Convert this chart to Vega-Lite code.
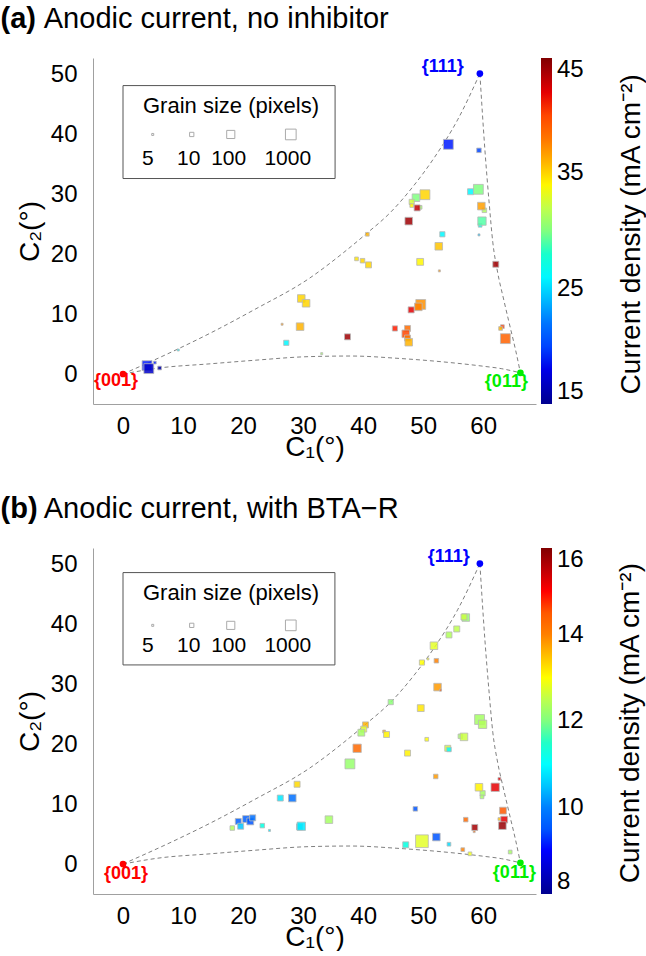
{
  "$schema": "https://vega.github.io/schema/vega-lite/v6.json",
  "padding": {"top": 5, "left": 0, "right": 0, "bottom": 0},
  "autosize": {"type": "pad"},
  "background": "white",
  "config": {
    "font": "Liberation Sans",
    "view": {"stroke": null},
    "axis": {
      "grid": false,
      "domainColor": "#a0a0a0",
      "ticks": false,
      "labelFont": "Liberation Sans",
      "labelFontSize": 24,
      "labelColor": "black",
      "labelFlush": false,
      "labelOverlap": false,
      "titleFont": "Liberation Sans",
      "titleFontSize": 28,
      "titleFontWeight": "normal",
      "titleColor": "black"
    },
    "axisX": {"labelPadding": 10, "titlePadding": -5},
    "axisY": {"labelPadding": 16, "titlePadding": 6},
    "legend": {"labelFont": "Liberation Sans", "labelColor": "black"}
  },
  "datasets": {
    "one": [{}],
    "curves": [
      {"seg": "L", "c1": 0, "c2": 0},
      {"seg": "L", "c1": 6, "c2": 1.0},
      {"seg": "L", "c1": 14.5, "c2": 1.7},
      {"seg": "L", "c1": 22, "c2": 2.3},
      {"seg": "L", "c1": 31, "c2": 2.9},
      {"seg": "L", "c1": 38, "c2": 3.0},
      {"seg": "L", "c1": 46, "c2": 2.6},
      {"seg": "L", "c1": 54.6, "c2": 1.9},
      {"seg": "L", "c1": 60, "c2": 1.3},
      {"seg": "L", "c1": 63, "c2": 0.9},
      {"seg": "L", "c1": 66.2, "c2": 0.2},
      {"seg": "U", "c1": 0, "c2": 0},
      {"seg": "U", "c1": 9.2, "c2": 4.2},
      {"seg": "U", "c1": 14.5, "c2": 6.8},
      {"seg": "U", "c1": 22, "c2": 10.8},
      {"seg": "U", "c1": 31.1, "c2": 16.0},
      {"seg": "U", "c1": 36.8, "c2": 20.3},
      {"seg": "U", "c1": 40.3, "c2": 23.2},
      {"seg": "U", "c1": 44.6, "c2": 27.0},
      {"seg": "U", "c1": 48.5, "c2": 31.5},
      {"seg": "U", "c1": 51.8, "c2": 36.0},
      {"seg": "U", "c1": 55.8, "c2": 42.5},
      {"seg": "U", "c1": 59.45, "c2": 50.1},
      {"seg": "R", "c1": 59.45, "c2": 50.1},
      {"seg": "R", "c1": 60.3, "c2": 37.2},
      {"seg": "R", "c1": 61.0, "c2": 28.5},
      {"seg": "R", "c1": 61.6, "c2": 22.0},
      {"seg": "R", "c1": 62.4, "c2": 17.0},
      {"seg": "R", "c1": 63.4, "c2": 12.5},
      {"seg": "R", "c1": 64.5, "c2": 7.8},
      {"seg": "R", "c1": 65.4, "c2": 4.0},
      {"seg": "R", "c1": 66.2, "c2": 0.2}
    ],
    "a": [
      {"c1": 54.2, "c2": 38.3, "j": 19, "g": 445},
      {"c1": 59.3, "c2": 37.3, "j": 20, "g": 11},
      {"c1": 57.9, "c2": 30.4, "j": 26, "g": 23},
      {"c1": 59.2, "c2": 30.8, "j": 30, "g": 445},
      {"c1": 60.2, "c2": 27.3, "j": 31.5, "g": 11},
      {"c1": 59.7, "c2": 28.0, "j": 36.6, "g": 65},
      {"c1": 59.5, "c2": 24.8, "j": 27, "g": 8},
      {"c1": 59.8, "c2": 25.5, "j": 29, "g": 117},
      {"c1": 59.3, "c2": 23.2, "j": 24, "g": 5},
      {"c1": 53.2, "c2": 23.3, "j": 26, "g": 15},
      {"c1": 40.7, "c2": 23.3, "j": 36, "g": 8},
      {"c1": 50.3, "c2": 29.9, "j": 35, "g": 445},
      {"c1": 48.8, "c2": 29.4, "j": 30, "g": 65},
      {"c1": 48.1, "c2": 28.7, "j": 32.5, "g": 15},
      {"c1": 48.1, "c2": 28.1, "j": 34, "g": 8},
      {"c1": 49.5, "c2": 27.8, "j": 31, "g": 8},
      {"c1": 49.0, "c2": 27.7, "j": 43, "g": 23},
      {"c1": 47.6, "c2": 25.5, "j": 44, "g": 65},
      {"c1": 52.6, "c2": 21.3, "j": 35.5, "g": 65},
      {"c1": 38.9, "c2": 19.2, "j": 34.5, "g": 8},
      {"c1": 39.9, "c2": 18.9, "j": 35, "g": 11},
      {"c1": 40.9, "c2": 18.2, "j": 35, "g": 23},
      {"c1": 49.5, "c2": 18.7, "j": 34, "g": 39},
      {"c1": 52.7, "c2": 17.2, "j": 37, "g": 5},
      {"c1": 62.1, "c2": 18.3, "j": 44, "g": 23},
      {"c1": 49.6, "c2": 11.6, "j": 37, "g": 445},
      {"c1": 49.2, "c2": 11.2, "j": 37.5, "g": 65},
      {"c1": 48.0, "c2": 10.7, "j": 42, "g": 23},
      {"c1": 45.3, "c2": 7.6, "j": 41, "g": 15},
      {"c1": 47.4, "c2": 7.6, "j": 38.5, "g": 23},
      {"c1": 47.1, "c2": 6.7, "j": 40, "g": 65},
      {"c1": 47.4, "c2": 6.0, "j": 38, "g": 23},
      {"c1": 47.6, "c2": 5.3, "j": 36, "g": 65},
      {"c1": 37.4, "c2": 6.2, "j": 44, "g": 23},
      {"c1": 33.1, "c2": 3.4, "j": 31, "g": 5},
      {"c1": 63.2, "c2": 7.9, "j": 40.5, "g": 8},
      {"c1": 62.9, "c2": 7.6, "j": 36, "g": 8},
      {"c1": 63.7, "c2": 5.9, "j": 39, "g": 445},
      {"c1": 29.7, "c2": 12.6, "j": 35, "g": 65},
      {"c1": 30.5, "c2": 11.8, "j": 35, "g": 65},
      {"c1": 26.5, "c2": 8.3, "j": 37, "g": 5},
      {"c1": 29.5, "c2": 7.9, "j": 36, "g": 65},
      {"c1": 27.2, "c2": 5.2, "j": 26, "g": 15},
      {"c1": 9.2, "c2": 4.0, "j": 26, "g": 5},
      {"c1": 4.0, "c2": 1.4, "j": 19, "g": 445},
      {"c1": 4.3, "c2": 0.9, "j": 17, "g": 445},
      {"c1": 5.3, "c2": 1.9, "j": 19, "g": 6},
      {"c1": 6.1, "c2": 1.0, "j": 16, "g": 8}
    ],
    "b": [
      {"c1": 57.1, "c2": 41.1, "j": 12.2, "g": 65},
      {"c1": 56.8, "c2": 41.2, "j": 12.6, "g": 23},
      {"c1": 55.6, "c2": 39.2, "j": 12.5, "g": 23},
      {"c1": 54.3, "c2": 38.2, "j": 12.4, "g": 23},
      {"c1": 51.8, "c2": 36.4, "j": 12.8, "g": 65},
      {"c1": 49.8, "c2": 33.6, "j": 13.0, "g": 15},
      {"c1": 50.8, "c2": 34.2, "j": 13.0, "g": 5},
      {"c1": 52.2, "c2": 33.9, "j": 14.0, "g": 11},
      {"c1": 52.4, "c2": 29.5, "j": 13.8, "g": 65},
      {"c1": 52.9, "c2": 29.0, "j": 14.5, "g": 5},
      {"c1": 44.6, "c2": 27.0, "j": 12.1, "g": 15},
      {"c1": 49.6, "c2": 26.0, "j": 13.2, "g": 39},
      {"c1": 59.4, "c2": 24.1, "j": 12.3, "g": 445},
      {"c1": 59.9, "c2": 23.3, "j": 12.4, "g": 117},
      {"c1": 40.4, "c2": 23.2, "j": 13.6, "g": 23},
      {"c1": 40.1, "c2": 22.5, "j": 12.8, "g": 23},
      {"c1": 39.7, "c2": 21.9, "j": 12.3, "g": 39},
      {"c1": 43.5, "c2": 22.1, "j": 14.0, "g": 6},
      {"c1": 43.9, "c2": 21.6, "j": 13.1, "g": 23},
      {"c1": 39.0, "c2": 19.3, "j": 14.3, "g": 117},
      {"c1": 37.8, "c2": 16.7, "j": 12.2, "g": 445},
      {"c1": 50.6, "c2": 20.8, "j": 13.0, "g": 8},
      {"c1": 47.4, "c2": 18.5, "j": 13.1, "g": 23},
      {"c1": 56.2, "c2": 21.3, "j": 12.3, "g": 11},
      {"c1": 56.8, "c2": 21.2, "j": 12.6, "g": 65},
      {"c1": 54.1, "c2": 19.3, "j": 12.7, "g": 23},
      {"c1": 54.3, "c2": 19.1, "j": 11.0, "g": 11},
      {"c1": 52.1, "c2": 14.6, "j": 13.8, "g": 11},
      {"c1": 59.9, "c2": 11.8, "j": 12.3, "g": 15},
      {"c1": 59.8, "c2": 11.2, "j": 12.3, "g": 8},
      {"c1": 59.3, "c2": 12.8, "j": 13.1, "g": 65},
      {"c1": 62.0, "c2": 12.8, "j": 15.2, "g": 117},
      {"c1": 62.7, "c2": 14.2, "j": 15.3, "g": 6},
      {"c1": 63.3, "c2": 8.9, "j": 14.5, "g": 39},
      {"c1": 62.7, "c2": 7.5, "j": 13.5, "g": 6},
      {"c1": 63.5, "c2": 7.4, "j": 15.2, "g": 39},
      {"c1": 63.2, "c2": 6.4, "j": 15.8, "g": 65},
      {"c1": 58.6, "c2": 6.1, "j": 15.7, "g": 23},
      {"c1": 58.5, "c2": 5.4, "j": 14.3, "g": 5},
      {"c1": 57.1, "c2": 7.4, "j": 14.3, "g": 11},
      {"c1": 48.7, "c2": 9.2, "j": 9.5, "g": 11},
      {"c1": 52.2, "c2": 4.5, "j": 9.5, "g": 65},
      {"c1": 49.8, "c2": 3.8, "j": 12.8, "g": 10000},
      {"c1": 47.1, "c2": 3.2, "j": 11.3, "g": 23},
      {"c1": 54.3, "c2": 3.3, "j": 10.7, "g": 8},
      {"c1": 56.6, "c2": 2.4, "j": 14.0, "g": 8},
      {"c1": 57.8, "c2": 1.7, "j": 12.9, "g": 8},
      {"c1": 64.5, "c2": 2.0, "j": 12.3, "g": 8},
      {"c1": 34.3, "c2": 7.4, "j": 12.3, "g": 65},
      {"c1": 29.0, "c2": 13.3, "j": 13.3, "g": 23},
      {"c1": 26.2, "c2": 11.0, "j": 10.8, "g": 23},
      {"c1": 28.2, "c2": 11.0, "j": 9.8, "g": 65},
      {"c1": 29.4, "c2": 6.2, "j": 10.8, "g": 23},
      {"c1": 29.7, "c2": 6.3, "j": 10.8, "g": 117},
      {"c1": 19.2, "c2": 7.1, "j": 9.6, "g": 23},
      {"c1": 19.6, "c2": 6.3, "j": 10.5, "g": 23},
      {"c1": 20.5, "c2": 7.5, "j": 9.6, "g": 39},
      {"c1": 21.2, "c2": 7.1, "j": 9.5, "g": 39},
      {"c1": 21.6, "c2": 7.7, "j": 9.8, "g": 23},
      {"c1": 18.2, "c2": 6.0, "j": 12.4, "g": 11},
      {"c1": 23.2, "c2": 6.4, "j": 11.3, "g": 11},
      {"c1": 24.4, "c2": 5.6, "j": 10.8, "g": 5}
    ]
  },
  "spacing": 34,
  "resolve": {
    "scale": {"color": "independent", "size": "independent", "x": "independent", "y": "independent"},
    "legend": {"color": "independent", "size": "independent"}
  },
  "vconcat": [
    {
      "width": 443,
      "height": 346,
      "layer": [
        {
          "data": {"name": "curves"},
          "mark": {"type": "line", "color": "#808080", "strokeWidth": 1, "strokeDash": [4, 3], "interpolate": "monotone"},
          "encoding": {
            "x": {"field": "c1", "type": "quantitative", "scale": {"domain": [-5, 68.8], "nice": false, "zero": false}, "axis": {"title": "C₁(°)", "values": [0, 10, 20, 30, 40, 50, 60]}},
            "y": {"field": "c2", "type": "quantitative", "scale": {"domain": [-5, 52.7], "nice": false, "zero": false}, "axis": {"title": "C₂(°)", "values": [0, 10, 20, 30, 40, 50]}},
            "detail": {"field": "seg"}
          }
        },
        {"data": {"name": "one"}, "mark": {"type": "rect", "fill": "white", "stroke": "#555555", "strokeWidth": 1}, "encoding": {"x": {"datum": 0, "type": "quantitative"}, "x2": {"datum": 35.33}, "y": {"datum": 48.1, "type": "quantitative"}, "y2": {"datum": 32.6}}},
        {"data": {"name": "one"}, "mark": {"type": "text", "text": "Grain size (pixels)", "fontSize": 22, "align": "left", "baseline": "alphabetic", "color": "black"}, "encoding": {"x": {"datum": 3.33, "type": "quantitative"}, "y": {"datum": 43.5, "type": "quantitative"}}},
        {"data": {"name": "one"}, "mark": {"type": "square", "fill": "white", "stroke": "#aaaaaa", "strokeWidth": 1, "opacity": 1}, "encoding": {"x": {"datum": 4.95, "type": "quantitative"}, "y": {"datum": 39.95, "type": "quantitative"}, "size": {"datum": 5, "type": "quantitative", "legend": null}}},
        {"data": {"name": "one"}, "mark": {"type": "square", "fill": "white", "stroke": "#aaaaaa", "strokeWidth": 1, "opacity": 1}, "encoding": {"x": {"datum": 11.45, "type": "quantitative"}, "y": {"datum": 39.95, "type": "quantitative"}, "size": {"datum": 10, "type": "quantitative", "legend": null}}},
        {"data": {"name": "one"}, "mark": {"type": "square", "fill": "white", "stroke": "#aaaaaa", "strokeWidth": 1, "opacity": 1}, "encoding": {"x": {"datum": 17.95, "type": "quantitative"}, "y": {"datum": 39.95, "type": "quantitative"}, "size": {"datum": 100, "type": "quantitative", "legend": null}}},
        {"data": {"name": "one"}, "mark": {"type": "square", "fill": "white", "stroke": "#aaaaaa", "strokeWidth": 1, "opacity": 1}, "encoding": {"x": {"datum": 27.95, "type": "quantitative"}, "y": {"datum": 39.95, "type": "quantitative"}, "size": {"datum": 1000, "type": "quantitative", "legend": null}}},
        {"data": {"name": "one"}, "mark": {"type": "text", "text": "5", "fontSize": 21, "align": "center", "baseline": "alphabetic", "color": "black"}, "encoding": {"x": {"datum": 4.12, "type": "quantitative"}, "y": {"datum": 34.83, "type": "quantitative"}}},
        {"data": {"name": "one"}, "mark": {"type": "text", "text": "10", "fontSize": 21, "align": "center", "baseline": "alphabetic", "color": "black"}, "encoding": {"x": {"datum": 10.95, "type": "quantitative"}, "y": {"datum": 34.83, "type": "quantitative"}}},
        {"data": {"name": "one"}, "mark": {"type": "text", "text": "100", "fontSize": 21, "align": "center", "baseline": "alphabetic", "color": "black"}, "encoding": {"x": {"datum": 17.6, "type": "quantitative"}, "y": {"datum": 34.83, "type": "quantitative"}}},
        {"data": {"name": "one"}, "mark": {"type": "text", "text": "1000", "fontSize": 21, "align": "center", "baseline": "alphabetic", "color": "black"}, "encoding": {"x": {"datum": 27.45, "type": "quantitative"}, "y": {"datum": 34.83, "type": "quantitative"}}},
        {
          "data": {"name": "a"},
          "mark": {"type": "square", "filled": true, "fillOpacity": 0.85, "stroke": "#b8b8b8", "strokeWidth": 1, "strokeOpacity": 0.8},
          "encoding": {
            "x": {"field": "c1", "type": "quantitative"},
            "y": {"field": "c2", "type": "quantitative"},
            "color": {
              "field": "j", "type": "quantitative",
              "scale": {"domain": [15, 18.75, 22.5, 26.25, 30, 33.75, 37.5, 41.25, 45], "range": ["#00008F", "#0000FF", "#0080FF", "#00FFFF", "#80FF80", "#FFFF00", "#FF8000", "#FF0000", "#800000"]},
              "legend": {
                "orient": "right", "offset": 5, "padding": 0, "direction": "vertical", "title": null,
                "gradientLength": 346, "gradientThickness": 11, "gradientStrokeWidth": 0,
                "values": [15, 25, 35, 45], "labelFontSize": 24, "labelOffset": 5, "labelOverlap": false
              }
            },
            "size": {"field": "g", "type": "quantitative", "scale": {"type": "log", "domain": [5, 1000], "range": [4, 114]}, "legend": null}
          }
        },
        {"data": {"name": "one"}, "mark": {"type": "circle", "color": "#FF0000", "opacity": 1, "size": 45}, "encoding": {"x": {"datum": 0, "type": "quantitative"}, "y": {"datum": 0, "type": "quantitative"}}},
        {"data": {"name": "one"}, "mark": {"type": "circle", "color": "#00EE00", "opacity": 1, "size": 45}, "encoding": {"x": {"datum": 66.2, "type": "quantitative"}, "y": {"datum": 0.2, "type": "quantitative"}}},
        {"data": {"name": "one"}, "mark": {"type": "circle", "color": "#0000FF", "opacity": 1, "size": 45}, "encoding": {"x": {"datum": 59.45, "type": "quantitative"}, "y": {"datum": 50.1, "type": "quantitative"}}},
        {"data": {"name": "one"}, "mark": {"type": "text", "text": "{001}", "color": "#FF0000", "fontWeight": "bold", "fontSize": 18, "align": "center", "baseline": "alphabetic", "dx": -7, "dy": 12}, "encoding": {"x": {"datum": 0, "type": "quantitative"}, "y": {"datum": 0, "type": "quantitative"}}},
        {"data": {"name": "one"}, "mark": {"type": "text", "text": "{011}", "color": "#00EE00", "fontWeight": "bold", "fontSize": 18, "align": "center", "baseline": "alphabetic", "dx": -14, "dy": 14}, "encoding": {"x": {"datum": 66.2, "type": "quantitative"}, "y": {"datum": 0.2, "type": "quantitative"}}},
        {"data": {"name": "one"}, "mark": {"type": "text", "text": "{111}", "color": "#0000FF", "fontWeight": "bold", "fontSize": 18, "align": "right", "baseline": "alphabetic", "dx": -16, "dy": -2}, "encoding": {"x": {"datum": 59.45, "type": "quantitative"}, "y": {"datum": 50.1, "type": "quantitative"}}},
        {"data": {"name": "one"}, "mark": {"type": "text", "text": "(a)", "color": "black", "fontWeight": "bold", "fontSize": 29, "align": "left", "baseline": "alphabetic"}, "encoding": {"x": {"datum": -20.4, "type": "quantitative"}, "y": {"datum": 57.7, "type": "quantitative"}}},
        {"data": {"name": "one"}, "mark": {"type": "text", "text": "Anodic current, no inhibitor", "color": "black", "fontSize": 29, "align": "left", "baseline": "alphabetic"}, "encoding": {"x": {"datum": -13.2, "type": "quantitative"}, "y": {"datum": 57.7, "type": "quantitative"}}},
        {"data": {"name": "one"}, "mark": {"type": "text", "text": "Current density (mA cm⁻²)", "color": "black", "fontSize": 28, "angle": 270, "align": "center", "baseline": "middle"}, "encoding": {"x": {"datum": 84.8, "type": "quantitative"}, "y": {"datum": 23.3, "type": "quantitative"}}}
      ]
    },
    {
      "width": 443,
      "height": 346,
      "layer": [
        {
          "data": {"name": "curves"},
          "mark": {"type": "line", "color": "#808080", "strokeWidth": 1, "strokeDash": [4, 3], "interpolate": "monotone"},
          "encoding": {
            "x": {"field": "c1", "type": "quantitative", "scale": {"domain": [-5, 68.8], "nice": false, "zero": false}, "axis": {"title": "C₁(°)", "values": [0, 10, 20, 30, 40, 50, 60]}},
            "y": {"field": "c2", "type": "quantitative", "scale": {"domain": [-5, 52.7], "nice": false, "zero": false}, "axis": {"title": "C₂(°)", "values": [0, 10, 20, 30, 40, 50]}},
            "detail": {"field": "seg"}
          }
        },
        {"data": {"name": "one"}, "mark": {"type": "rect", "fill": "white", "stroke": "#555555", "strokeWidth": 1}, "encoding": {"x": {"datum": 0, "type": "quantitative"}, "x2": {"datum": 35.3}, "y": {"datum": 48.6, "type": "quantitative"}, "y2": {"datum": 33.2}}},
        {"data": {"name": "one"}, "mark": {"type": "text", "text": "Grain size (pixels)", "fontSize": 22, "align": "left", "baseline": "alphabetic", "color": "black"}, "encoding": {"x": {"datum": 3.33, "type": "quantitative"}, "y": {"datum": 44.05, "type": "quantitative"}}},
        {"data": {"name": "one"}, "mark": {"type": "square", "fill": "white", "stroke": "#aaaaaa", "strokeWidth": 1, "opacity": 1}, "encoding": {"x": {"datum": 4.95, "type": "quantitative"}, "y": {"datum": 39.8, "type": "quantitative"}, "size": {"datum": 5, "type": "quantitative", "legend": null}}},
        {"data": {"name": "one"}, "mark": {"type": "square", "fill": "white", "stroke": "#aaaaaa", "strokeWidth": 1, "opacity": 1}, "encoding": {"x": {"datum": 11.45, "type": "quantitative"}, "y": {"datum": 39.8, "type": "quantitative"}, "size": {"datum": 10, "type": "quantitative", "legend": null}}},
        {"data": {"name": "one"}, "mark": {"type": "square", "fill": "white", "stroke": "#aaaaaa", "strokeWidth": 1, "opacity": 1}, "encoding": {"x": {"datum": 17.95, "type": "quantitative"}, "y": {"datum": 39.8, "type": "quantitative"}, "size": {"datum": 100, "type": "quantitative", "legend": null}}},
        {"data": {"name": "one"}, "mark": {"type": "square", "fill": "white", "stroke": "#aaaaaa", "strokeWidth": 1, "opacity": 1}, "encoding": {"x": {"datum": 27.95, "type": "quantitative"}, "y": {"datum": 39.8, "type": "quantitative"}, "size": {"datum": 1000, "type": "quantitative", "legend": null}}},
        {"data": {"name": "one"}, "mark": {"type": "text", "text": "5", "fontSize": 21, "align": "center", "baseline": "alphabetic", "color": "black"}, "encoding": {"x": {"datum": 4.12, "type": "quantitative"}, "y": {"datum": 35.3, "type": "quantitative"}}},
        {"data": {"name": "one"}, "mark": {"type": "text", "text": "10", "fontSize": 21, "align": "center", "baseline": "alphabetic", "color": "black"}, "encoding": {"x": {"datum": 10.95, "type": "quantitative"}, "y": {"datum": 35.3, "type": "quantitative"}}},
        {"data": {"name": "one"}, "mark": {"type": "text", "text": "100", "fontSize": 21, "align": "center", "baseline": "alphabetic", "color": "black"}, "encoding": {"x": {"datum": 17.6, "type": "quantitative"}, "y": {"datum": 35.3, "type": "quantitative"}}},
        {"data": {"name": "one"}, "mark": {"type": "text", "text": "1000", "fontSize": 21, "align": "center", "baseline": "alphabetic", "color": "black"}, "encoding": {"x": {"datum": 27.45, "type": "quantitative"}, "y": {"datum": 35.3, "type": "quantitative"}}},
        {
          "data": {"name": "b"},
          "mark": {"type": "square", "filled": true, "fillOpacity": 0.85, "stroke": "#b8b8b8", "strokeWidth": 1, "strokeOpacity": 0.8},
          "encoding": {
            "x": {"field": "c1", "type": "quantitative"},
            "y": {"field": "c2", "type": "quantitative"},
            "color": {
              "field": "j", "type": "quantitative",
              "scale": {"domain": [8, 9, 10, 11, 12, 13, 14, 15, 16], "range": ["#00008F", "#0000FF", "#0080FF", "#00FFFF", "#80FF80", "#FFFF00", "#FF8000", "#FF0000", "#800000"]},
              "legend": {
                "orient": "right", "offset": 5, "padding": 0, "direction": "vertical", "title": null,
                "gradientLength": 346, "gradientThickness": 11, "gradientStrokeWidth": 0,
                "values": [8, 10, 12, 14, 16], "labelFontSize": 24, "labelOffset": 5, "labelOverlap": false
              }
            },
            "size": {"field": "g", "type": "quantitative", "scale": {"type": "log", "domain": [5, 1000], "range": [4, 114]}, "legend": null}
          }
        },
        {"data": {"name": "one"}, "mark": {"type": "circle", "color": "#FF0000", "opacity": 1, "size": 45}, "encoding": {"x": {"datum": 0, "type": "quantitative"}, "y": {"datum": 0, "type": "quantitative"}}},
        {"data": {"name": "one"}, "mark": {"type": "circle", "color": "#00EE00", "opacity": 1, "size": 45}, "encoding": {"x": {"datum": 66.2, "type": "quantitative"}, "y": {"datum": 0.2, "type": "quantitative"}}},
        {"data": {"name": "one"}, "mark": {"type": "circle", "color": "#0000FF", "opacity": 1, "size": 45}, "encoding": {"x": {"datum": 59.45, "type": "quantitative"}, "y": {"datum": 50.1, "type": "quantitative"}}},
        {"data": {"name": "one"}, "mark": {"type": "text", "text": "{001}", "color": "#FF0000", "fontWeight": "bold", "fontSize": 18, "align": "center", "baseline": "alphabetic", "dx": 3, "dy": 15}, "encoding": {"x": {"datum": 0, "type": "quantitative"}, "y": {"datum": 0, "type": "quantitative"}}},
        {"data": {"name": "one"}, "mark": {"type": "text", "text": "{011}", "color": "#00EE00", "fontWeight": "bold", "fontSize": 18, "align": "center", "baseline": "alphabetic", "dx": -6, "dy": 15}, "encoding": {"x": {"datum": 66.2, "type": "quantitative"}, "y": {"datum": 0.2, "type": "quantitative"}}},
        {"data": {"name": "one"}, "mark": {"type": "text", "text": "{111}", "color": "#0000FF", "fontWeight": "bold", "fontSize": 18, "align": "right", "baseline": "alphabetic", "dx": -10, "dy": -2}, "encoding": {"x": {"datum": 59.45, "type": "quantitative"}, "y": {"datum": 50.1, "type": "quantitative"}}},
        {"data": {"name": "one"}, "mark": {"type": "text", "text": "(b)", "color": "black", "fontWeight": "bold", "fontSize": 29, "align": "left", "baseline": "alphabetic"}, "encoding": {"x": {"datum": -20.4, "type": "quantitative"}, "y": {"datum": 57.7, "type": "quantitative"}}},
        {"data": {"name": "one"}, "mark": {"type": "text", "text": "Anodic current, with BTA−R", "color": "black", "fontSize": 29, "align": "left", "baseline": "alphabetic"}, "encoding": {"x": {"datum": -13.2, "type": "quantitative"}, "y": {"datum": 57.7, "type": "quantitative"}}},
        {"data": {"name": "one"}, "mark": {"type": "text", "text": "Current density (mA cm⁻²)", "color": "black", "fontSize": 28, "angle": 270, "align": "center", "baseline": "middle"}, "encoding": {"x": {"datum": 84.6, "type": "quantitative"}, "y": {"datum": 23.5, "type": "quantitative"}}}
      ]
    }
  ]
}
